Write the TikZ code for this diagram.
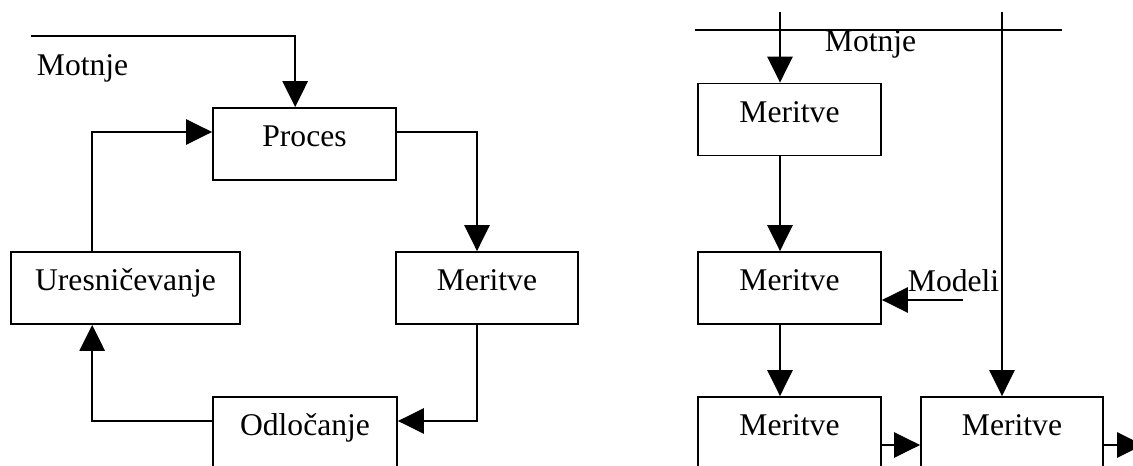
\documentclass[tikz,border=0pt]{standalone}
\usepackage{fontspec}
\setmainfont{Liberation Serif}
\usetikzlibrary{arrows.meta}
\begin{document}
\begin{tikzpicture}[x=.75pt,y=-.75pt,>={Triangle[length=19.5pt,width=19pt]},line width=1.4pt,
  font=\fontsize{23.7}{28}\selectfont,
  box/.style={draw,minimum width=137.25pt,minimum height=54pt,text height=.7em,text depth=.3em,inner sep=0pt}]
\useasboundingbox (0,0) rectangle (1133,466);
% levi del
\node[box] (proces) at (304.5,144) {Proces};
\node[box,minimum width=171.75pt] (uresnic) at (125.5,288) {Uresničevanje};
\node[box,minimum width=136.5pt] (meritve) at (487,288) {Meritve};
\node[box,minimum width=138pt] (odlocanje) at (305,433) {Odločanje};
\node[anchor=base west,inner sep=0pt] (motnjeL) at (36,76) {Motnje};
\coordinate (motL) at (31,36);
\draw[->] (motL) -| ([xshift=-7pt]proces.north);
\draw[->] ([xshift=-25pt]uresnic.north) |- ([yshift=9pt]proces.west);
\draw[->] ([yshift=9pt]proces.east) -| ([xshift=-7.5pt]meritve.north);
\draw[->] ([xshift=-7.5pt]meritve.south) |- ([yshift=9pt]odlocanje.east);
\draw[->] ([yshift=9pt]odlocanje.west) -| ([xshift=-25pt]uresnic.south);
% desni del
\node[box] (merA) at (789.5,119.5) {Meritve};
\node[box] (merB) at (789.5,288) {Meritve};
\node[box] (merC) at (789.5,433) {Meritve};
\node[box,minimum width=136.5pt] (merD) at (1012,433) {Meritve};
\node[anchor=base west,inner sep=0pt] (motnjeR) at (824,52) {Motnje};
\node[anchor=base west,inner sep=0pt] (modeli) at (907,292) {Modeli};
\coordinate (hL) at (695,30);
\coordinate (hR) at (1062,30);
\coordinate (vA) at (780,12);
\coordinate (vB) at (1002,12);
\coordinate (mod) at (963,300);
\coordinate (izhod) at (1143,445);
\draw (hL) -- (hR);
\draw[->] (vA) -- (vA |- merA.north);
\draw[->] (vB) -- (vB |- merD.north);
\draw[->] (merA.south -| vA) -- (merB.north -| vA);
\draw[->] (merB.south -| vA) -- (merC.north -| vA);
\draw[->] (mod) -- (mod -| merB.east);
\draw[->] ([yshift=-9pt]merC.east) -- ([yshift=-9pt]merD.west);
\draw[->] ([yshift=-9pt]merD.east) -- (izhod);
\end{tikzpicture}
\end{document}
